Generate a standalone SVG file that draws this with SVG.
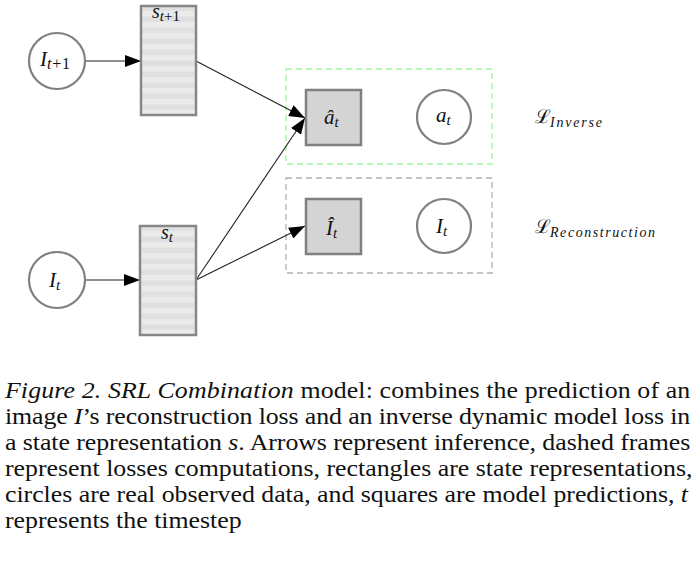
<svg xmlns="http://www.w3.org/2000/svg" width="700" height="565" viewBox="0 0 700 565">
<style>
.circ{fill:#fff;stroke:#808080;stroke-width:2.2}
.sq{fill:#d4d4d4;stroke:#808080;stroke-width:2.5}
.st{fill:url(#stripes);stroke:#878787;stroke-width:2.5}
.m{font-family:"Liberation Serif","DejaVu Serif",serif;fill:#111}
.it{font-style:italic}
.cap{font-family:"Liberation Serif","Times New Roman",serif;font-size:23.5px;fill:#111}
.edge{stroke:#222;stroke-width:1.1;fill:none;marker-end:url(#ah)}
</style>
<defs>
<pattern id="stripes" patternUnits="userSpaceOnUse" width="10" height="11">
<rect width="10" height="11" fill="#ebebeb"/>
<rect y="5.5" width="10" height="5.5" fill="#e0e0e0"/>
</pattern>
<marker id="ah" markerUnits="userSpaceOnUse" markerWidth="18" markerHeight="12" refX="16" refY="6" orient="auto">
<path d="M0,0 L16,6 L0,12 Z" fill="#000"/>
</marker>
</defs>
<rect width="700" height="565" fill="#fff"/>

<g id="frame-inverse">
<rect x="286" y="69" width="206" height="95" fill="none" stroke="#9cf79c" stroke-width="1.3" stroke-dasharray="6,4"/>
</g>
<g id="frame-reconstruction">
<rect x="286" y="178" width="206" height="95" fill="none" stroke="#b0b0b0" stroke-width="1.3" stroke-dasharray="6,4"/>
</g>

<g id="connectors">
<line class="edge" x1="85" y1="61" x2="141" y2="61"/>
<line class="edge" x1="85" y1="280" x2="140" y2="280"/>
<line class="edge" x1="196" y1="61" x2="305" y2="118"/>
<line class="edge" x1="196" y1="280" x2="305" y2="118"/>
<line class="edge" x1="196" y1="280" x2="305" y2="226"/>
</g>

<g id="node-I-t1">
<circle class="circ" cx="57" cy="61" r="28"/>
<text class="m" x="40" y="66" font-size="21"><tspan class="it">I</tspan><tspan font-size="16" dy="3" textLength="23" lengthAdjust="spacing"><tspan class="it">t</tspan>+1</tspan></text>
</g>
<g id="node-s-t1">
<rect class="st" x="141" y="6" width="55" height="109"/>
<text class="m" x="152" y="18" font-size="20"><tspan class="it">s</tspan><tspan font-size="15" dy="3"><tspan class="it">t</tspan>+1</tspan></text>
</g>
<g id="node-I-t">
<circle class="circ" cx="57" cy="280" r="28"/>
<text class="m" x="49" y="287" font-size="21"><tspan class="it">I</tspan><tspan class="it" font-size="15" dy="3">t</tspan></text>
</g>
<g id="node-s-t">
<rect class="st" x="140" y="226" width="56" height="109"/>
<text class="m" x="161" y="239" font-size="20"><tspan class="it">s</tspan><tspan class="it" font-size="15" dy="3">t</tspan></text>
</g>
<g id="node-a-hat">
<rect class="sq" x="306" y="90" width="55" height="55"/>
<text class="m" x="324" y="124" font-size="21"><tspan class="it">â</tspan><tspan class="it" font-size="15" dy="3">t</tspan></text>
</g>
<g id="node-a">
<circle class="circ" cx="444" cy="117" r="27"/>
<text class="m" x="436" y="122" font-size="21"><tspan class="it">a</tspan><tspan class="it" font-size="15" dy="3">t</tspan></text>
</g>
<g id="node-I-hat">
<rect class="sq" x="306" y="199" width="55" height="55"/>
<text class="m" x="326" y="235" font-size="21"><tspan class="it">Î</tspan><tspan class="it" font-size="15" dy="3">t</tspan></text>
</g>
<g id="node-I-obs">
<circle class="circ" cx="444" cy="226" r="27"/>
<text class="m" x="436" y="233" font-size="21"><tspan class="it">I</tspan><tspan class="it" font-size="15" dy="3">t</tspan></text>
</g>
<g id="label-inverse">
<text class="m" x="535" y="123" font-size="19">ℒ</text>
<text class="m it" x="550" y="127" font-size="14" textLength="52" lengthAdjust="spacing">Inverse</text>
</g>
<g id="label-reconstruction">
<text class="m" x="535" y="233" font-size="19">ℒ</text>
<text class="m it" x="550" y="237" font-size="14" textLength="105" lengthAdjust="spacing">Reconstruction</text>
</g>

<g id="caption" transform="scale(1.1,1)">
<text class="cap" x="4.5" y="398" textLength="623" lengthAdjust="spacing"><tspan class="it">Figure 2. SRL Combination</tspan> model: combines the prediction of an</text>
<text class="cap" x="4.5" y="424" textLength="623" lengthAdjust="spacing">image <tspan class="it">I</tspan>’s reconstruction loss and an inverse dynamic model loss in</text>
<text class="cap" x="4.5" y="450" textLength="623" lengthAdjust="spacing">a state representation <tspan class="it">s</tspan>. Arrows represent inference, dashed frames</text>
<text class="cap" x="4.5" y="476" textLength="625" lengthAdjust="spacing">represent losses computations, rectangles are state representations,</text>
<text class="cap" x="4.5" y="502" textLength="621" lengthAdjust="spacing">circles are real observed data, and squares are model predictions, <tspan class="it">t</tspan></text>
<text class="cap" x="4.5" y="528">represents the timestep</text>
</g>
</svg>
